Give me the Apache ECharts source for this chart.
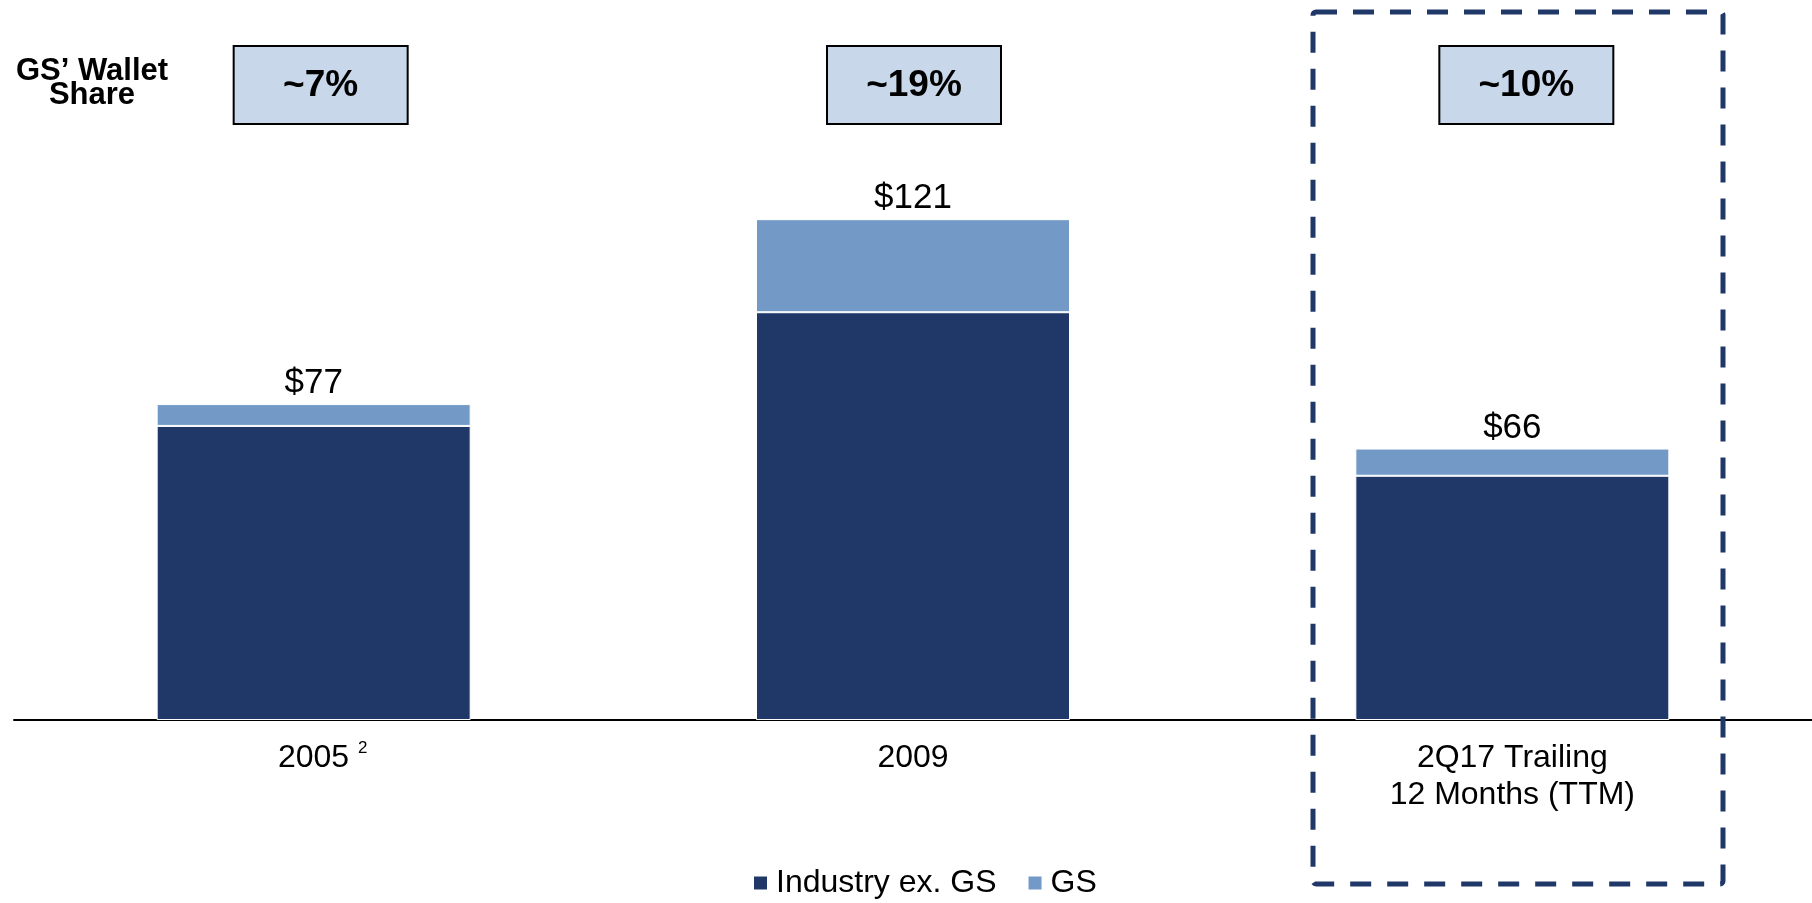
<!DOCTYPE html>
<html>
<head>
<meta charset="utf-8">
<script src="https://cdn.jsdelivr.net/npm/echarts@6/dist/echarts.min.js"></script>
<style>
    html, body { margin: 0; padding: 0; background: #fff; }
    #chartBar { width: 1812px; height: 903px; }
</style>
</head>
<body>
<div id="chartBar"></div>
<script>
// values ($bn)
const categories = ['2005', '2009', '2Q17 Trailing\n12 Months (TTM)'];
const industryExGS = [71.4, 99.0, 59.3];
const gsValues = [5.3, 22.6, 6.6];
const totalLabels = ['$77', '$121', '$66'];
const walletShare = ['~7%', '~19%', '~10%'];
const seriesNames = ['Industry ex. GS', 'GS'];

const FONT = '"Liberation Sans", Arial, sans-serif';
const DARK = '#1F3868';
const LIGHT = '#7399C6';

// boxes sit a little right of the bar centres in the original
const boxShift = [7, 1, 14];

const chartBar = echarts.init(document.getElementById('chartBar'));

chartBar.setOption({
    animation: false,
    textStyle: { fontFamily: FONT, color: '#000' },
    grid: { left: 14, right: 0, top: 61, bottom: 183 },
    legend: {
        data: seriesNames,
        left: 752,
        top: 867,
        padding: 0,
        icon: 'rect',
        itemWidth: 15,
        itemHeight: 15,
        itemGap: 30,
        textStyle: { fontSize: 32, fontFamily: FONT, color: '#000', padding: [0, 0, 0, 3] }
    },
    xAxis: {
        type: 'category',
        data: categories,
        axisLine: { lineStyle: { color: '#000', width: 2 } },
        axisTick: { show: false },
        axisLabel: {
            margin: 20,
            fontSize: 32,
            lineHeight: 37,
            color: '#000',
            fontFamily: FONT,
            formatter: function (v) {
                // footnote mark hangs to the right, "2005" itself stays centred
                return v === '2005' ? '{pad| }' + v + ' {sup|2}' : v;
            },
            rich: {
                pad: { width: 18, fontSize: 32, lineHeight: 37 },
                sup: { fontSize: 17, verticalAlign: 'top', lineHeight: 37, padding: [0, 0, 14, 0], fontFamily: FONT, color: '#000' }
            }
        }
    },
    yAxis: {
        type: 'value',
        min: 0,
        max: 160,
        show: false,
        splitLine: { show: false }
    },
    series: [
        {
            name: seriesNames[0],
            type: 'bar',
            stack: 'total',
            barWidth: 314,
            data: industryExGS,
            itemStyle: { color: DARK, borderColor: '#fff', borderWidth: 1 }
        },
        {
            name: seriesNames[1],
            type: 'bar',
            stack: 'total',
            barWidth: 314,
            data: gsValues,
            itemStyle: { color: LIGHT, borderColor: '#fff', borderWidth: 1 },
            label: {
                show: true,
                position: 'top',
                distance: 3,
                fontSize: 35,
                fontFamily: FONT,
                color: '#000',
                formatter: p => totalLabels[p.dataIndex]
            }
        }
    ]
});

// wallet share boxes above each bar, dashed frame round the TTM column
function drawAnnotations() {
    const els = [
        {
            type: 'text',
            x: 92,
            y: 83,
            style: {
                text: 'GS\u2019 Wallet\nShare',
                font: 'bold 31px ' + FONT,
                lineHeight: 24,
                fill: '#000',
                align: 'center',
                verticalAlign: 'middle'
            }
        }
    ];
    categories.forEach((c, i) => {
        const cx = chartBar.convertToPixel({ xAxisIndex: 0 }, c) + boxShift[i];
        els.push({
            type: 'rect',
            shape: { x: cx - 87, y: 46, width: 174, height: 78 },
            style: { fill: '#C8D7E9', stroke: '#000', lineWidth: 2 }
        });
        els.push({
            type: 'text',
            x: cx,
            y: 86,
            style: {
                text: walletShare[i],
                font: 'bold 37px ' + FONT,
                fill: '#000',
                align: 'center',
                verticalAlign: 'middle'
            }
        });
    });
    els.push({
        type: 'rect',
        shape: { x: 1313, y: 12, width: 410, height: 872, r: 3 },
        style: { fill: 'none', stroke: DARK, lineWidth: 5, lineDash: [21, 16] },
        z: 10
    });
    chartBar.setOption({ graphic: els });
}
drawAnnotations();
</script>
</body>
</html>
